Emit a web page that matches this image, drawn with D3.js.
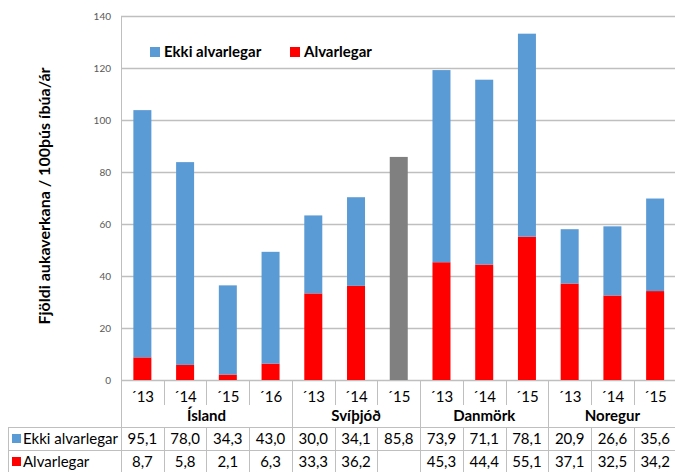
<!DOCTYPE html>
<html><head><meta charset="utf-8">
<script src="https://cdn.jsdelivr.net/npm/d3@7"></script>
<style>body{margin:0;background:#fff}svg{display:block;font-family:Lato,"Open Sans",sans-serif}</style>
</head><body>
<svg id="c" width="675" height="472"></svg>
<script>
const groups = ["Ísland","Svíþjóð","Danmörk","Noregur"];
const years = [["´13","´14","´15","´16"],["´13","´14","´15"],["´13","´14","´15"],["´13","´14","´15"]];
const ekki = [95.1,78.0,34.3,43.0,30.0,34.1,85.8,73.9,71.1,78.1,20.9,26.6,35.6];
const alvar = [8.7,5.8,2.1,6.3,33.3,36.2,null,45.3,44.4,55.1,37.1,32.5,34.2];
const grayIdx = [6]; // Svíþjóð ´15 total only
const seriesNames = ["Ekki alvarlegar","Alvarlegar"];
const yTicks = [0,20,40,60,80,100,120,140];
const yTitle = "Fjöldi aukaverkana  / 100þús íbúa/ár";

const BLUE="#5B9BD5", RED="#FF0000", GRAY="#808080", GRID="#BFBFBF";
const svg = d3.select("#c");
const L=121, R=676.5, T=16, B=380;
const cats = [];
groups.forEach((g,gi)=>years[gi].forEach((y,yi)=>cats.push({g,gi,y,yi,first:yi===0})));
cats.forEach((c,i)=>{c.i=i;c.e=ekki[i];c.a=alvar[i];});

const x = d3.scaleBand().domain(d3.range(cats.length)).range([L,R]).paddingInner(0).paddingOuter(0);
const y = d3.scaleLinear().domain([0,140]).range([B,T]);
const bw = 18;

// gridlines
svg.append("g").selectAll("line").data(yTicks).join("line")
  .attr("x1",L).attr("x2",R).attr("y1",d=>y(d)+0.5).attr("y2",d=>y(d)+0.5)
  .attr("stroke",GRID).attr("stroke-width",1.5);
// y axis labels
svg.append("g").selectAll("text").data(yTicks).join("text")
  .attr("x",111).attr("y",d=>y(d)+4).attr("text-anchor","end")
  .attr("font-size",10).attr("fill","#595959").text(d=>d);
// y title
svg.append("text").attr("transform","translate(50,196) rotate(-90)")
  .attr("text-anchor","middle").attr("font-size",16).attr("font-weight","bold")
  .attr("fill","#000").text(yTitle);

// bars
const cx = i=>x(i)+x.bandwidth()/2;
const bars = svg.append("g");
cats.forEach(c=>{
  if(grayIdx.includes(c.i)){
    bars.append("rect").attr("x",cx(c.i)-bw/2).attr("width",bw)
      .attr("y",y(c.e)).attr("height",y(0)-y(c.e)).attr("fill",GRAY);
  } else {
    bars.append("rect").attr("x",cx(c.i)-bw/2).attr("width",bw)
      .attr("y",y(c.a)).attr("height",y(0)-y(c.a)).attr("fill",RED);
    bars.append("rect").attr("x",cx(c.i)-bw/2).attr("width",bw)
      .attr("y",y(c.a+c.e)).attr("height",y(c.a)-y(c.a+c.e)).attr("fill",BLUE);
  }
});

// axis lines
const ln=(x1,y1,x2,y2)=>svg.append("line").attr("x1",x1).attr("y1",y1).attr("x2",x2).attr("y2",y2).attr("stroke",GRID).attr("stroke-width",1);
ln(L+0.5,T,L+0.5,472);
ln(L,B+0.5,R,B+0.5);

// category ticks
const TT=427, TM=450;
cats.forEach(c=>{
  const xl = Math.round(x(c.i))+0.5;
  if(c.i===0) return;
  if(c.first) ln(xl,B,xl,472);
  else { ln(xl,B,xl,405); ln(xl,TT,xl,472); }
});
// year labels
svg.append("g").selectAll("text").data(cats).join("text")
  .attr("x",d=>cx(d.i)).attr("y",402).attr("text-anchor","middle")
  .attr("font-size",15).attr("fill","#000").text(d=>d.y);
// group labels
groups.forEach((g,gi)=>{
  const idx = cats.filter(c=>c.gi===gi).map(c=>c.i);
  const mid = (x(idx[0]) + x(idx[idx.length-1]) + x.bandwidth())/2;
  svg.append("text").attr("x",mid).attr("y",421).attr("text-anchor","middle")
    .attr("font-size",15).attr("font-weight","bold").attr("fill","#000").text(g);
});

// table
ln(8,TT+0.5,R,TT+0.5);
ln(8,TM+0.5,R,TM+0.5);
ln(8.5,TT,8.5,472);
const fmt = v=> v==null? "" : v.toFixed(1).replace(".",",");
[[ekki,BLUE,TT],[alvar,RED,TM]].forEach(([arr,col,ty],si)=>{
  svg.append("rect").attr("x",12).attr("y",ty+7).attr("width",9).attr("height",9).attr("fill",col);
  svg.append("text").attr("x",23).attr("y",ty+17).attr("font-size",15).attr("fill","#000").text(seriesNames[si]);
  svg.append("g").selectAll("text").data(cats).join("text")
    .attr("x",d=>cx(d.i)).attr("y",ty+17).attr("text-anchor","middle")
    .attr("font-size",15).attr("fill","#000").text(d=>fmt(arr[d.i]));
});

// legend
const lg = svg.append("g");
lg.append("rect").attr("x",150).attr("y",47).attr("width",10).attr("height",10).attr("fill",BLUE);
lg.append("text").attr("x",164).attr("y",57).attr("font-size",15).attr("font-weight","bold").text(seriesNames[0]);
lg.append("rect").attr("x",290).attr("y",47).attr("width",10).attr("height",10).attr("fill",RED);
lg.append("text").attr("x",304).attr("y",57).attr("font-size",15).attr("font-weight","bold").text(seriesNames[1]);
</script>
</body></html>
